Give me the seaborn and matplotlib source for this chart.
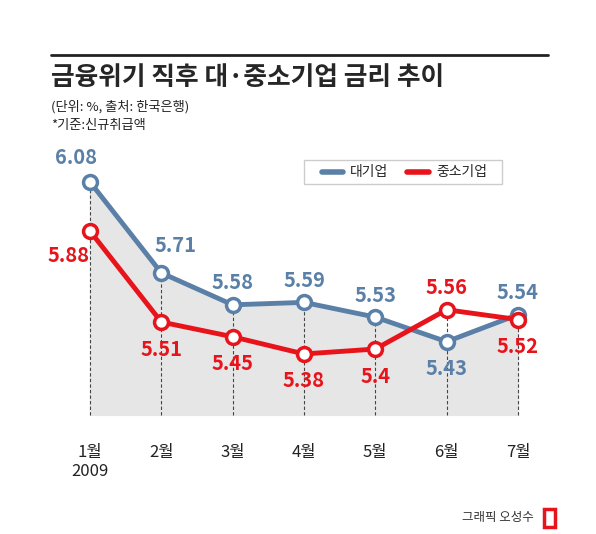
import matplotlib
matplotlib.use("Agg")
import matplotlib.pyplot as plt
import seaborn as sns
import pandas as pd

months = ["1월", "2월", "3월", "4월", "5월", "6월", "7월"]
large = [6.08, 5.71, 5.58, 5.59, 5.53, 5.43, 5.54]
small = [5.88, 5.51, 5.45, 5.38, 5.40, 5.56, 5.52]
large_lbl = ["6.08", "5.71", "5.58", "5.59", "5.53", "5.43", "5.54"]
small_lbl = ["5.88", "5.51", "5.45", "5.38", "5.4", "5.56", "5.52"]

sns.set_style("white")
plt.rcParams["font.family"] = ["Noto Sans CJK KR", "DejaVu Sans"]

BLUE = "#5b80a8"
RED = "#e8141b"

fig = plt.figure(figsize=(5.96, 5.34), dpi=100)
ax = fig.add_axes([0, 0, 1, 1])
ax.set_xlim(-1.262, 7.094)
ax.set_ylim(4.647, 6.821)
ax.axis("off")

x = list(range(len(months)))
base = 5.132
ax.fill_between(x, large, base, color="#e6e6e6", zorder=1)
for xi, yv in zip(x, large):
    ax.plot([xi, xi], [base, max(yv, small[xi])], ls=(0, (3, 2)), color="#444444", lw=0.8, zorder=2)

df = pd.DataFrame({"x": x * 2, "v": large + small,
                   "s": ["대기업"] * 7 + ["중소기업"] * 7})
sns.lineplot(data=df, x="x", y="v", hue="s", palette=[BLUE, RED], lw=3.5,
             marker="o", markersize=10, markerfacecolor="white", markeredgewidth=2.5,
             legend=False, ax=ax, zorder=3)
for line, c in zip(ax.lines[-2:], [BLUE, RED]):
    line.set_markeredgecolor(c)

big = dict(fontsize=14.5, fontweight="bold")
large_off = [(-0.2, 0.1), (0.2, 0.11), (0, 0.09), (0, 0.09), (0, 0.09), (0, -0.11), (0, 0.09)]
small_off = [(-0.3, -0.1), (0, -0.11), (0, -0.11), (0, -0.11), (0, -0.11), (0, 0.09), (0, -0.11)]
for i, t in enumerate(large_lbl):
    dx, dy = large_off[i]
    ax.text(x[i] + dx, large[i] + dy, t, color=BLUE, ha="center", va="center", **big)
for i, t in enumerate(small_lbl):
    dx, dy = small_off[i]
    ax.text(x[i] + dx, small[i] + dy, t, color=RED, ha="center", va="center", **big)

for i, m in enumerate(months):
    ax.text(x[i], 4.98, m, ha="center", va="center", fontsize=12, color="#222222")
ax.text(0, 4.90, "2009", ha="center", va="center", fontsize=12, color="#222222")

# legend
ax.add_patch(plt.Rectangle((3.0, 6.07), 2.77, 0.1, fill=False, ec="#cccccc", lw=1))
ax.plot([3.25, 3.55], [6.12, 6.12], color=BLUE, lw=4)
ax.text(3.65, 6.12, "대기업", va="center", fontsize=10)
ax.plot([4.45, 4.75], [6.12, 6.12], color=RED, lw=4)
ax.text(4.85, 6.12, "중소기업", va="center", fontsize=10)

fig.lines.append(plt.Line2D([0.085, 0.92], [0.897, 0.897], color="#222222", lw=2, transform=fig.transFigure))
fig.text(0.085, 0.855, "금융위기 직후 대·중소기업 금리 추이", fontsize=18.5, fontweight="bold", va="center")
fig.text(0.085, 0.8, "(단위: %, 출처: 한국은행)", fontsize=9.5, va="center", color="#222222")
fig.text(0.085, 0.765, "*기준:신규취급액", fontsize=9.5, va="center", color="#222222")
fig.text(0.895, 0.03, "그래픽 오성수", fontsize=9, ha="right", va="center", color="#333333")
ax.add_patch(plt.Rectangle((6.36, 4.675), 0.16, 0.075, fill=False, ec=RED, lw=2.5))

fig.savefig("out.png", dpi=100)
